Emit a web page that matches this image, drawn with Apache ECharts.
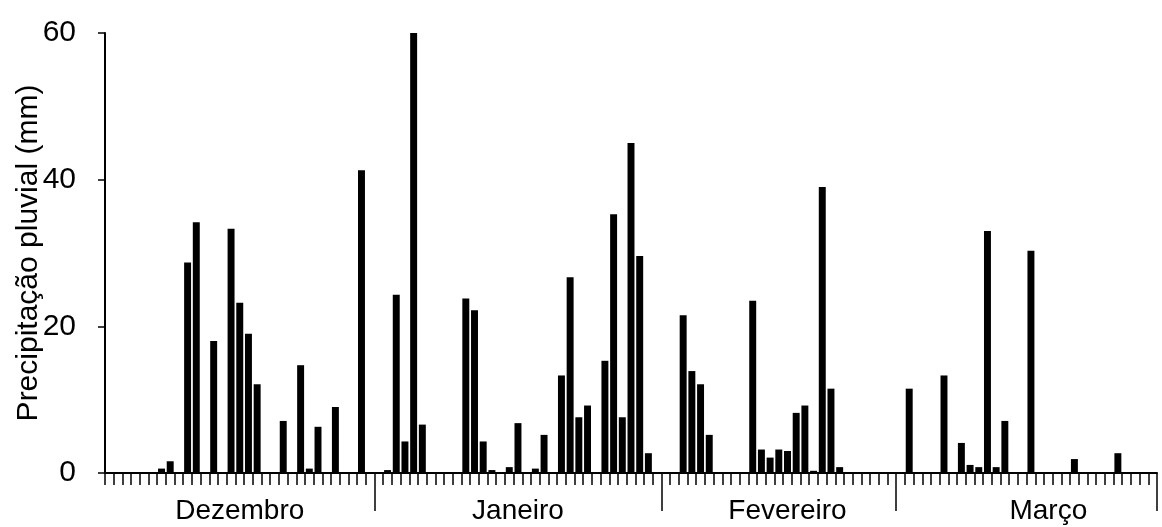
<!DOCTYPE html>
<html>
<head>
<meta charset="utf-8">
<script src="https://cdn.jsdelivr.net/npm/echarts@6/dist/echarts.min.js"></script>
<style>
  html, body { margin: 0; padding: 0; background: #fff; }
  #chart { width: 1162px; height: 527px; }
</style>
</head>
<body>
<div id="chart"></div>
<script>
// chuva diaria (mm), um valor por dia, dezembro a marco
const rain = [
  0, 0, 0, 0, 0, 0, 0.6, 1.6, 0, 28.7,
  34.2, 0, 18.0, 0, 33.3, 23.2, 19.0, 12.1, 0, 0,
  7.1, 0, 14.7, 0.6, 6.3, 0, 9.0, 0, 0, 41.3,
  0, 0, 0.4, 24.3, 4.3, 60.0, 6.6, 0, 0, 0,
  0, 23.8, 22.2, 4.3, 0.4, 0, 0.8, 6.8, 0, 0.6,
  5.2, 0, 13.3, 26.7, 7.6, 9.2, 0, 15.3, 35.3, 7.6,
  45.0, 29.6, 2.7, 0, 0, 0, 21.5, 13.9, 12.1, 5.2,
  0, 0, 0, 0, 23.5, 3.2, 2.1, 3.2, 3.0, 8.2,
  9.2, 0.3, 39.0, 11.5, 0.8, 0, 0, 0, 0, 0,
  0, 0, 11.5, 0, 0, 0, 13.3, 0, 4.1, 1.1,
  0.8, 33.0, 0.8, 7.1, 0, 0, 30.3, 0, 0, 0,
  0, 1.9, 0, 0, 0, 0, 2.7, 0, 0, 0,
  0
];
const days = rain.map((_, i) => String(i + 1));

const months = ['Dezembro', 'Janeiro', 'Fevereiro', 'Março'];
const monthLabelAt = [15, 47, 78, 108];   // dia onde fica o nome do mes
const monthBreaks = [31, 64, 91];         // tracos longos entre meses
const yTicks = [0, 20, 40, 60];

const monthRow = days.map((d, i) => {
  const k = monthLabelAt.indexOf(i);
  return k >= 0 ? months[k] : '';
});

const font = 'Liberation Sans, Arial, sans-serif';
const chart = echarts.init(document.getElementById('chart'));
chart.setOption({
  animation: false,
  textStyle: { fontFamily: font, color: '#000' },
  grid: { left: 105, right: 5, top: 33, bottom: 54, containLabel: false, outerBoundsMode: 'none' },
  xAxis: [
    {
      type: 'category',
      position: 'bottom',
      data: days,
      boundaryGap: true,
      axisLine: { show: true, lineStyle: { color: '#000', width: 2 } },
      axisTick: { show: true, interval: 0, length: 12, lineStyle: { color: '#000', width: 1.5 } },
      axisLabel: { show: false },
      splitLine: { show: false }
    },
    {
      type: 'category',
      position: 'bottom',
      data: monthRow,
      boundaryGap: true,
      axisLine: { show: false },
      axisTick: {
        show: true,
        interval: (i) => monthBreaks.includes(i),
        length: 38,
        lineStyle: { color: '#000', width: 1.5 }
      },
      axisLabel: { show: true, interval: 0, margin: 24, fontSize: 28, color: '#000', fontFamily: font },
      splitLine: { show: false }
    }
  ],
  yAxis: {
    type: 'value',
    min: yTicks[0],
    max: yTicks[yTicks.length - 1],
    interval: 20,
    name: 'Precipitação pluvial (mm)',
    nameLocation: 'middle',
    nameGap: 61,
    nameMoveOverlap: false,
    nameTextStyle: { fontSize: 30, color: '#000', fontFamily: font },
    axisLine: { show: true, lineStyle: { color: '#000', width: 2 } },
    axisTick: { show: true, length: 7, lineStyle: { color: '#000', width: 1.5 } },
    axisLabel: { margin: 29, fontSize: 30, color: '#000', fontFamily: font },
    splitLine: { show: false }
  },
  series: [
    {
      type: 'bar',
      data: rain,
      xAxisIndex: 0,
      barWidth: '80%',
      itemStyle: { color: '#000' }
    }
  ]
});
</script>
</body>
</html>
